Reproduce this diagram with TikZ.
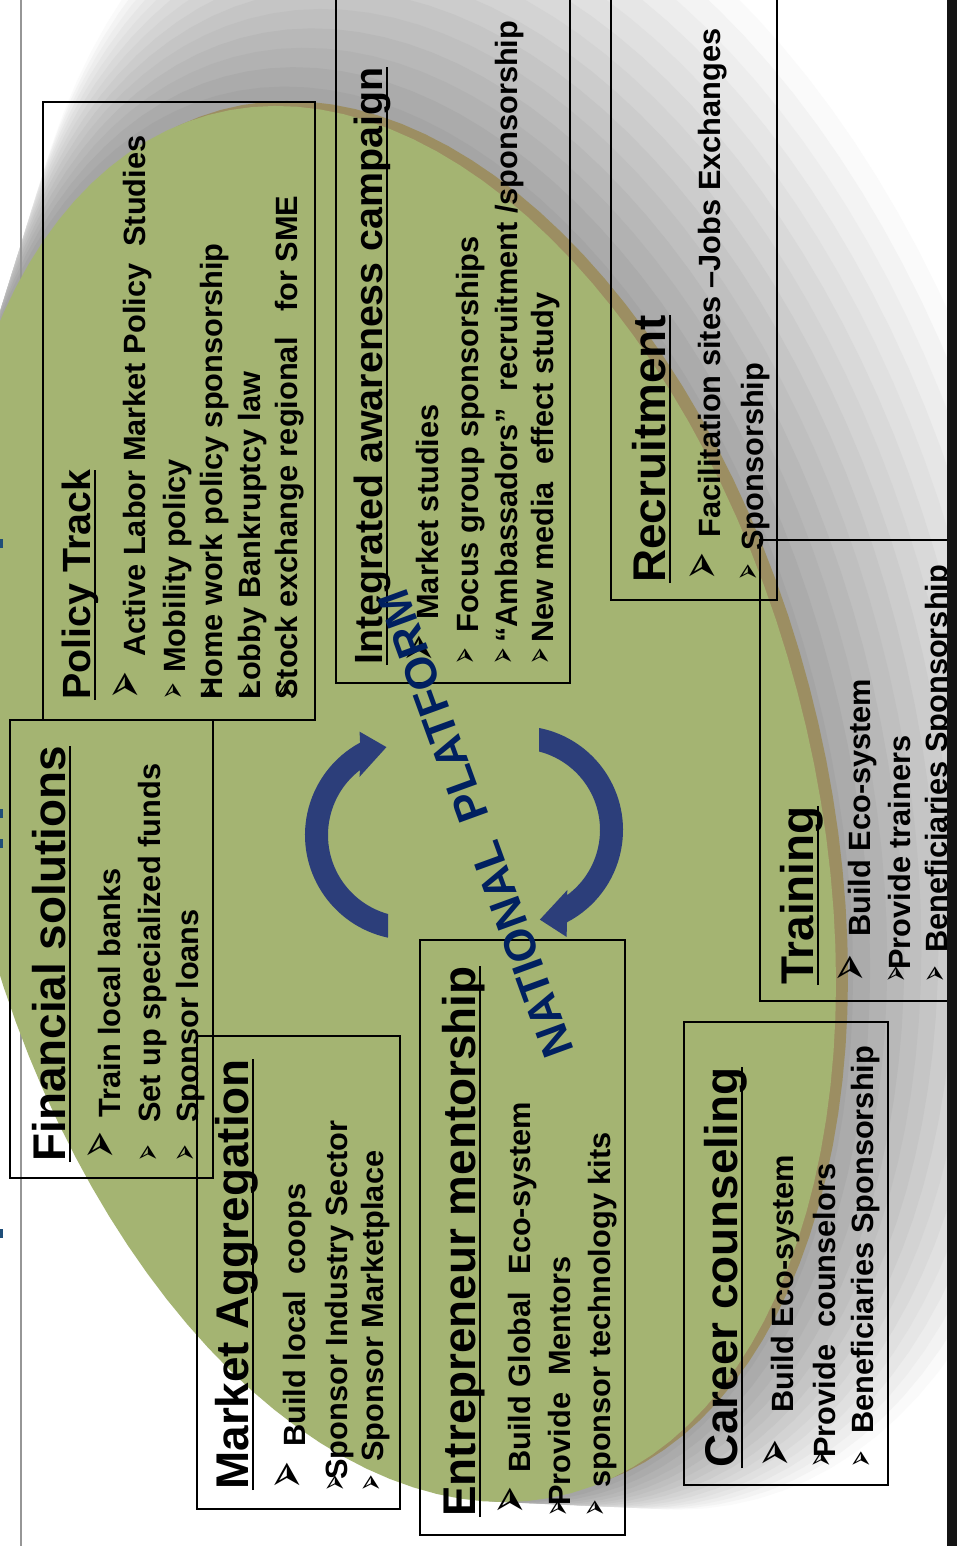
\documentclass[tikz,border=0pt]{standalone}
\usepackage{graphicx}
\usepackage{fontspec}
\setmainfont{Liberation Sans}
\newfontfamily\dingfont{DejaVu Sans}
\usetikzlibrary{calc}
\definecolor{ovalgreen}{RGB}{164,180,114}
\definecolor{ovalrim}{RGB}{156,142,98}
\definecolor{cyclenavy}{RGB}{44,62,122}
\definecolor{platformnavy}{RGB}{0,32,96}
\definecolor{edgeblue}{RGB}{31,78,121}
\definecolor{railgray}{RGB}{150,150,150}
\newcommand{\bigarrowhead}{\scalebox{0.95}[1.65]{➢}}
\newcommand{\smallarrowhead}{\scalebox{0.87}[1.7]{➢}}
\tikzset{
  boxframe/.style={draw=black, line width=0.9pt},
  headtext/.style={rotate=90, anchor=base west, inner sep=0pt,
    font=\bfseries\fontsize{26.1}{30}\selectfont},
  smallhead/.style={headtext, font=\bfseries\fontsize{22.4}{26}\selectfont},
  itemtext/.style={rotate=90, anchor=base west, inner sep=0pt,
    font=\bfseries\fontsize{17.5}{20}\selectfont},
  bigbullet/.style={rotate=90, anchor=base west, inner sep=0pt,
    font=\dingfont\fontsize{20}{22}\selectfont},
  smallbullet/.style={bigbullet, font=\dingfont\fontsize{13}{15}\selectfont},
  headline/.style={line width=1.2pt},
  cyclearrow/.style={fill=cyclenavy},
  platform/.style={rotate=110, inner sep=0pt, text=platformnavy,
    font=\bfseries\fontsize{25.2}{29}\selectfont}
}

\begin{document}
\begin{tikzpicture}[x=0.02cm, y=-0.02cm]
  \useasboundingbox (0,0) rectangle (957,1546);
  \clip (0,0) rectangle (957,1546);
  \fill[white] (0,0) rectangle (957,1546);
  % shadow rings behind the oval, pushed to the upper right
  \foreach \k in {14,13,...,1}{
    \pgfmathsetmacro{\f}{\k/14}
    \pgfmathsetmacro{\sx}{390+150*\f}
    \pgfmathsetmacro{\sy}{804-132*\f}
    \pgfmathsetmacro{\sc}{1+0.2*\f}
    \pgfmathsetmacro{\gv}{36*(1-\f)+2}
    \fill[black!\gv] plot[variable=\ang, domain=0:360, samples=121]
      ({\sx+\sc*446*cos(\ang)}, {\sy+\sc*(178*cos(\ang)+675*sin(\ang))}) -- cycle;
  }
  \draw[railgray, line width=0.8pt] (21,0) -- (21,1546);
  \fill[ovalrim] plot[variable=\ang, domain=0:360, samples=121]
    ({402+446*cos(\ang)}, {799+178*cos(\ang)+675*sin(\ang)}) -- cycle;
  \fill[ovalgreen] plot[variable=\ang, domain=0:360, samples=121]
    ({390+446*cos(\ang)}, {804+178*cos(\ang)+675*sin(\ang)}) -- cycle;

  % cycle arrows
  \fill[cyclearrow, shift={(410,835)}] (102.1:105) arc[start angle=102.1, end angle=241.6, radius=105]
    -- (244:115) -- (255:91) -- (229:77) -- (232.4:82) arc[start angle=232.4, end angle=105.4, radius=82] -- cycle;
  \fill[cyclearrow, shift={(519,830)}] (281.1:104) arc[start angle=281.1, end angle=422.5, radius=104]
    -- (426:117) -- (436.9:92) -- (411:77) -- (413.7:81) arc[start angle=413.7, end angle=284.4, radius=81] -- cycle;

  % frames
  \draw[boxframe] (43,102) rectangle (315,720);
  \draw[boxframe] (10,720) rectangle (213,1178);
  \draw[boxframe] (197,1036) rectangle (400,1509);
  \draw[boxframe] (336,-5) rectangle (570,683);
  \draw[boxframe] (611,-5) rectangle (777,600);
  \draw[boxframe] (760,540) rectangle (970,1001);
  \draw[boxframe] (684,1022) rectangle (888,1485);
  \draw[boxframe] (420,940) rectangle (625,1535);

  % bullets
  \foreach \bx/\by [count=\i] in {143/700, 118/1160, 305/1490, 437/663, 720/581, 868/983, 793/1468, 528/1515}
    \node[bigbullet] (bigmark\i) at (\bx,\by) {\bigarrowhead};
  \foreach \bx/\by [count=\i] in {185/700, 222/700, 260/700, 297/700, 160/1162, 197/1162,
      347/1492, 383/1492, 477/665, 515/665, 552/665, 760/581, 908/983, 947/983,
      833/1468, 873/1468, 570/1517, 607/1517}
    \node[smallbullet] (mark\i) at (\bx,\by) {\smallarrowhead};

  \node[smallhead] (policyhead) at (90,700) {Policy Track};
  \node[itemtext] (policy1) at (145,657) {Active Labor Market Policy~~Studies};
  \node[itemtext] (policy2) at (185,673) {Mobility policy};
  \node[itemtext] (policy3) at (222,700) {Home work policy sponsorship};
  \node[itemtext] (policy4) at (260,700) {Lobby Bankruptcy law};
  \node[itemtext] (policy5) at (297,700) {Stock exchange regional~~~for SME};

  \node[headtext] (finhead) at (65,1162) {Financial solutions};
  \node[itemtext] (fin1) at (120,1118) {Train local banks};
  \node[itemtext] (fin2) at (160,1123) {Set up specialized funds};
  \node[itemtext] (fin3) at (198,1123) {Sponsor loans};

  \node[headtext] (markethead) at (248,1490) {Market Aggregation};
  \node[itemtext] (market1) at (305,1447) {Build local~~coops};
  \node[itemtext] (market2) at (347,1480) {Sponsor Industry Sector};
  \node[itemtext] (market3) at (383,1462) {Sponsor Marketplace};

  \node[smallhead] (camphead) at (382,665) {Integrated awareness campaign};
  \node[itemtext] (camp1) at (438,620) {Market studies};
  \node[itemtext] (camp2) at (478,633) {Focus group sponsorships};
  \node[itemtext] (camp3) at (517,643) {“Ambassadors”~~recruitment /sponsorship};
  \node[itemtext] (camp4) at (553,643) {New media~~effect study};

  \node[headtext] (recrhead) at (665,583) {Recruitment};
  \node[itemtext] (recr1) at (720,538) {Facilitation sites –Jobs Exchanges};
  \node[itemtext] (recr2) at (763,551) {Sponsorship};

  \node[headtext] (trainhead) at (813,985) {Training};
  \node[itemtext] (train1) at (870,937) {Build Eco-system};
  \node[itemtext] (train2) at (910,970) {Provide trainers};
  \node[itemtext] (train3) at (947,953) {Beneficiaries Sponsorship};

  \node[headtext] (careerhead) at (737,1468) {Career counseling};
  \node[itemtext] (career1) at (793,1413) {Build Eco-system};
  \node[itemtext] (career2) at (835,1458) {Provide~~counselors};
  \node[itemtext] (career3) at (873,1434) {Beneficiaries Sponsorship};

  \node[headtext] (enthead) at (475,1517) {Entrepreneur mentorship};
  \node[itemtext] (ent1) at (530,1473) {Build Global~~Eco-system};
  \node[itemtext] (ent2) at (570,1506) {Provide~~Mentors};
  \node[itemtext] (ent3) at (610,1488) {sponsor technology kits};

  \foreach \h in {policyhead,finhead,markethead,camphead,recrhead,trainhead,careerhead,enthead}
    \draw[headline] ([xshift=3pt]\h.base west) -- ([xshift=3pt]\h.base east);

  \node[platform] (platform) at (476,824) {NATIONAL~~PLATFORM};

  % clipped edges of the slide
  \foreach \my in {539,809,839,1229}
    \fill[edgeblue] (0,\my) rectangle (3,\my+9);
  \fill[black!92] (947,0) rectangle (957,1546);
\end{tikzpicture}
\end{document}
